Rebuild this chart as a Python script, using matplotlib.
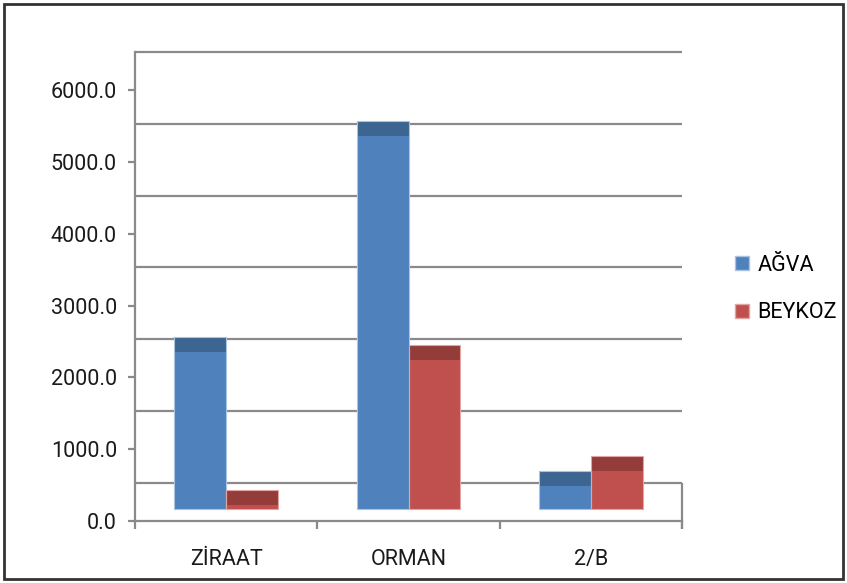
import matplotlib
matplotlib.use('Agg')
import matplotlib.pyplot as plt
from matplotlib.patches import Patch, Rectangle
import numpy as np

categories = ['ZİRAAT', 'ORMAN', '2/B']
agva = [2180, 5190, 320]
beykoz = [55, 2080, 530]
series = ['AĞVA', 'BEYKOZ']
yticks = [0, 1000, 2000, 3000, 4000, 5000, 6000]

# pseudo-3d look of the original (back wall shifted up, bar tops shaded)
DEPTH = 530      # back wall offset in value units
BASE = 167       # floor level under the bars
TOPFACE = 209    # visible top face of each bar
W = 0.285

front = ['#4F81BD', '#C0504D']
dark = ['#3C6591', '#943C3A']
edge = ['#A9C3E3', '#E3A5A3']
grid_c = '#8a8a8a'
txt_c = '#1a1a1a'
FS = 15.5

plt.rcParams['font.family'] = ['Roboto', 'DejaVu Sans']

fig = plt.figure(figsize=(8.47, 5.83), dpi=100)
ax = fig.add_axes([135/847, (583-521)/583, 547/847, 469/583])

x = np.arange(len(categories))
ax.set_xlim(-0.5, 2.5)
ax.set_ylim(0, 6000 + DEPTH)

# back wall gridlines
for t in yticks:
    ax.hlines(t + DEPTH, -0.5, 2.5, color=grid_c, lw=1.6, zorder=1, clip_on=False)
ax.vlines(2.5, -110, DEPTH, color=grid_c, lw=1.6, zorder=1, clip_on=False)

for i, vals in enumerate([agva, beykoz]):
    xs = x + (i - 0.5) * W
    vals = np.array(vals)
    ax.bar(xs, vals, width=W, bottom=BASE, color=front[i], lw=0, zorder=3)
    ax.bar(xs, TOPFACE, width=W, bottom=BASE + vals, color=dark[i], lw=0, zorder=3)
    ax.bar(xs, vals + TOPFACE, width=W, bottom=BASE, fill=False,
           edgecolor=edge[i], lw=0.8, zorder=4)

for s in ['top', 'right']:
    ax.spines[s].set_visible(False)
for s in ['left', 'bottom']:
    ax.spines[s].set_color(grid_c)
    ax.spines[s].set_linewidth(1.6)

ax.set_yticks(yticks)
ax.set_yticklabels(['%.1f' % t for t in yticks], fontsize=FS, color=txt_c)
ax.tick_params(axis='y', length=5, width=1.6, color=grid_c, pad=8)

ax.set_xticks(x)
ax.set_xticklabels(categories, fontsize=FS, color=txt_c)
ax.tick_params(axis='x', which='major', length=0, pad=20)
ax.set_xticks([-0.5, 0.5, 1.5, 2.5], minor=True)
ax.tick_params(axis='x', which='minor', length=6, width=1.6, color=grid_c)

handles = [Patch(facecolor=front[i], edgecolor=edge[i]) for i in range(2)]
fig.legend(handles, series, loc='center left',
           bbox_to_anchor=(735/847, (583-289)/583), frameon=False,
           fontsize=FS, handlelength=0.65, handleheight=0.65,
           handletextpad=0.4, labelspacing=1.25, borderpad=0,
           borderaxespad=0)

fig.patches.append(Rectangle((4/847, 4/583), 839/847, 575/583, transform=fig.transFigure,
                             fill=False, ec='#333333', lw=2))

fig.savefig('out.png', dpi=100)
